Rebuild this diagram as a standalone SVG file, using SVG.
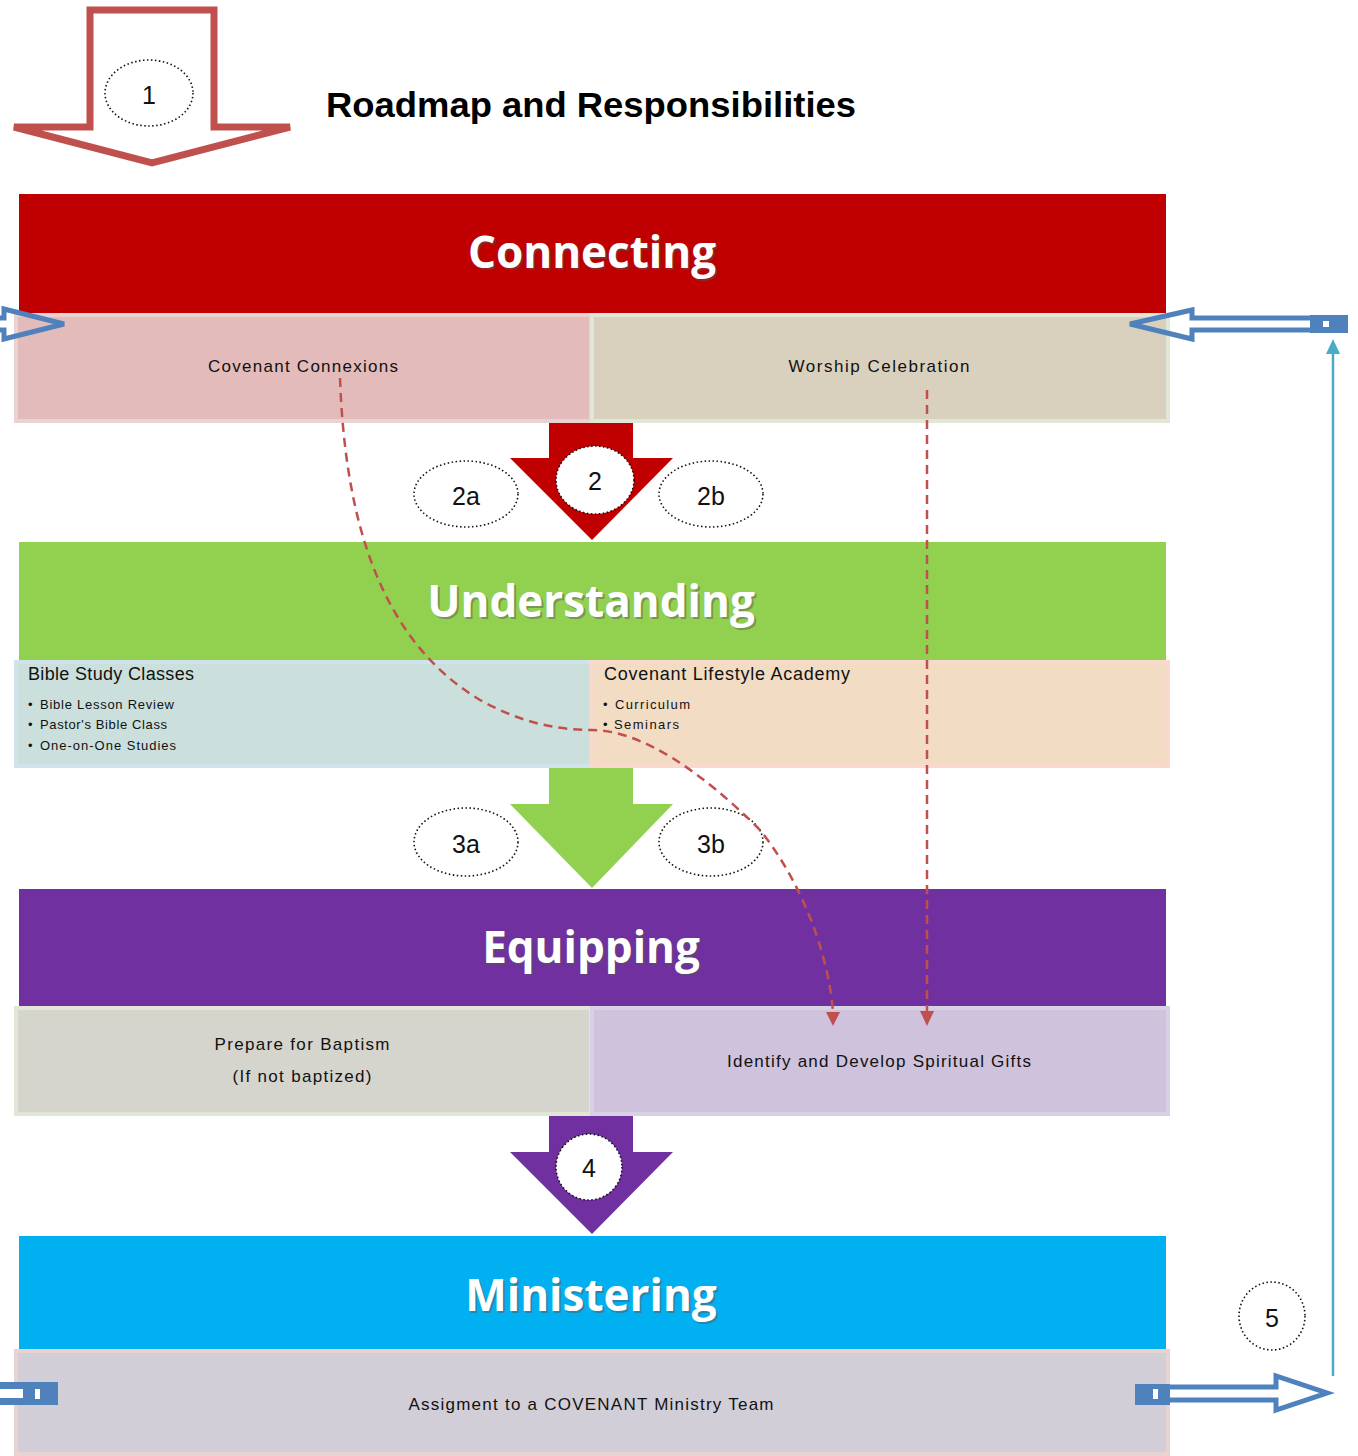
<svg xmlns="http://www.w3.org/2000/svg" width="1358" height="1456" viewBox="0 0 1358 1456">
<style>
.band{font-family:"Open Sans","Liberation Sans",sans-serif;font-weight:bold;font-size:44px;fill:#fff;text-anchor:middle}
.shadow{font-family:"Open Sans","Liberation Sans",sans-serif;font-weight:bold;font-size:44px;fill:#555;opacity:0.45;text-anchor:middle}
.lbl{font-family:"Liberation Sans","Open Sans",sans-serif;font-size:17px;fill:#111;text-anchor:middle}
.hd{font-family:"Liberation Sans","Open Sans",sans-serif;font-size:18px;fill:#111}
.bul{font-family:"Liberation Sans","Open Sans",sans-serif;font-size:13px;fill:#111}
.num{font-family:"Liberation Sans","Open Sans",sans-serif;font-size:25px;fill:#111;text-anchor:middle}
.ell{fill:none;stroke:#111;stroke-width:1.6;stroke-dasharray:1.5,2.5}
.ellw{fill:#fff;stroke:#111;stroke-width:1.6;stroke-dasharray:1.5,2.5}
.dash{fill:none;stroke:#C0504D;stroke-width:2.5;stroke-dasharray:9,6}
.rhead{fill:#C0504D}
.blue{fill:none;stroke:#4F81BD;stroke-width:5}
</style>

<g id="arrow1">
<path d="M90,10 L214,10 L214,127 L290,127 L152,163 L14,127 L90,127 Z" fill="#fff" stroke="#C0504D" stroke-width="7" stroke-linejoin="miter"/>
<ellipse class="ell" cx="149" cy="93" rx="44" ry="33"/>
<text class="num" x="149" y="104">1</text>
</g>

<g id="title">
<text x="326" y="117" font-family="Liberation Sans, Open Sans, sans-serif" font-weight="bold" font-size="35" fill="#000" textLength="530" lengthAdjust="spacingAndGlyphs">Roadmap and Responsibilities</text>
</g>

<g id="connecting">
<rect x="19" y="194" width="1147" height="119" fill="#C00000"/>
<text class="shadow" x="594" y="270">Connecting</text>
<text class="band" x="592" y="268">Connecting</text>
</g>
<g id="covenant-connexions">
<rect x="16" y="315" width="575" height="106" fill="#E3BBBB" stroke="#E8D2D2" stroke-width="4"/>
<text class="lbl" x="303" y="372" textLength="190">Covenant Connexions</text>
</g>
<g id="worship-celebration">
<rect x="592" y="315" width="576" height="106" fill="#DAD0BE" stroke="#E0E7D6" stroke-width="4"/>
<text class="lbl" x="879" y="372" textLength="181">Worship Celebration</text>
</g>

<g id="arrow2">
<path d="M549,423 L633,423 L633,458 L673,458 L592,540 L510,458 L549,458 Z" fill="#C00000"/>
<ellipse class="ellw" cx="595" cy="480" rx="39" ry="34"/>
<text class="num" x="595" y="490">2</text>
</g>
<g id="label2a"><ellipse class="ell" cx="466" cy="494" rx="52" ry="33"/><text class="num" x="466" y="505">2a</text></g>
<g id="label2b"><ellipse class="ell" cx="711" cy="494" rx="52" ry="33"/><text class="num" x="711" y="505">2b</text></g>

<g id="understanding">
<rect x="19" y="542" width="1147" height="118" fill="#92D050"/>
<text class="shadow" x="593" y="619">Understanding</text>
<text class="band" x="591" y="617">Understanding</text>
</g>
<g id="bible-study">
<rect x="16" y="662" width="575" height="104" fill="#CBE0DC" stroke="#D1E3EA" stroke-width="4"/>
<text class="hd" x="28" y="680" textLength="166">Bible Study Classes</text>
<text class="bul" x="28" y="709">•</text><text class="bul" x="40" y="709" textLength="134">Bible Lesson Review</text>
<text class="bul" x="28" y="729">•</text><text class="bul" x="40" y="729" textLength="127">Pastor's Bible Class</text>
<text class="bul" x="28" y="750">•</text><text class="bul" x="40" y="750" textLength="136">One-on-One Studies</text>
</g>
<g id="lifestyle-academy">
<rect x="592" y="662" width="576" height="104" fill="#F2DCC4" stroke="#F9D9CB" stroke-width="4"/>
<text class="hd" x="604" y="680" textLength="246">Covenant Lifestyle Academy</text>
<text class="bul" x="603" y="709">•</text><text class="bul" x="615" y="709" textLength="75">Curriculum</text>
<text class="bul" x="603" y="729">•</text><text class="bul" x="614" y="729" textLength="65">Seminars</text>
</g>

<g id="arrow3">
<path d="M549,768 L633,768 L633,804 L673,804 L592,888 L510,804 L549,804 Z" fill="#92D050"/>
</g>
<g id="label3a"><ellipse class="ell" cx="466" cy="842" rx="52" ry="34"/><text class="num" x="466" y="853">3a</text></g>
<g id="label3b"><ellipse class="ell" cx="711" cy="842" rx="52" ry="34"/><text class="num" x="711" y="853">3b</text></g>

<g id="equipping">
<rect x="19" y="889" width="1147" height="117" fill="#7030A0"/>
<text class="shadow" x="593" y="965">Equipping</text>
<text class="band" x="591" y="963">Equipping</text>
</g>
<g id="prepare-baptism">
<rect x="16" y="1008" width="575" height="106" fill="#D5D5CD" stroke="#E0E7D6" stroke-width="4"/>
<text class="lbl" x="302" y="1050" textLength="175">Prepare for Baptism</text>
<text class="lbl" x="302" y="1082" textLength="139">(If not baptized)</text>
</g>
<g id="spiritual-gifts">
<rect x="592" y="1008" width="576" height="106" fill="#CFC2DC" stroke="#D8D0E3" stroke-width="4"/>
<text class="lbl" x="879" y="1067" textLength="304">Identify and Develop Spiritual Gifts</text>
</g>

<g id="arrow4">
<path d="M549,1116 L633,1116 L633,1152 L673,1152 L592,1234 L510,1152 L549,1152 Z" fill="#7030A0"/>
<ellipse class="ellw" cx="589" cy="1167" rx="33" ry="33"/>
<text class="num" x="589" y="1177">4</text>
</g>

<g id="ministering">
<rect x="19" y="1236" width="1147" height="113" fill="#00B0F0"/>
<text class="shadow" x="593" y="1313">Ministering</text>
<text class="band" x="591" y="1311">Ministering</text>
</g>
<g id="ministry-team">
<rect x="16" y="1351" width="1152" height="103" fill="#D2CED7" stroke="#E9D2D2" stroke-width="4"/>
<text class="lbl" x="591" y="1410" textLength="365">Assigment to a COVENANT Ministry Team</text>
</g>

<g id="label5"><ellipse class="ell" cx="1272" cy="1316" rx="33" ry="34"/><text class="num" x="1272" y="1327">5</text></g>

<g id="connectors">
<path class="dash" d="M340,378 C345,520 380,640 480,700 C520,722 555,730 592,730 C640,730 700,770 760,830 C800,880 828,950 833,1012"/>
<path class="rhead" d="M826,1012 L840,1012 L833,1026 Z"/>
<path class="dash" d="M927,390 L927,1012"/>
<path class="rhead" d="M920,1011 L934,1011 L927,1026 Z"/>

<path class="blue" d="M-10,318 L4,318 L4,309 L64,324 L4,339 L4,330 L-10,330"/>

<path class="blue" d="M1312,318 L1192,318 L1192,310 L1130,324 L1192,339 L1192,330 L1312,330"/>
<rect x="1310" y="315" width="38" height="18" fill="#4F81BD"/>
<rect x="1323" y="321" width="6" height="6" fill="#fff"/>

<line x1="1333" y1="1376" x2="1333" y2="352" stroke="#4BACC6" stroke-width="2.5"/>
<path d="M1326,354 L1333,339 L1340,354 Z" fill="#4BACC6"/>

<path class="blue" d="M1168,1387 L1276,1387 L1276,1376 L1327,1393 L1276,1410 L1276,1400 L1168,1400"/>
<rect x="1135" y="1384" width="35" height="21" fill="#4F81BD"/>
<rect x="1153" y="1389" width="5" height="10" fill="#fff"/>

<rect x="0" y="1382" width="58" height="23" fill="#4F81BD"/>
<rect x="0" y="1389" width="23" height="9" fill="#fff"/>
<rect x="35" y="1389" width="5" height="10" fill="#fff"/>
</g>
</svg>
